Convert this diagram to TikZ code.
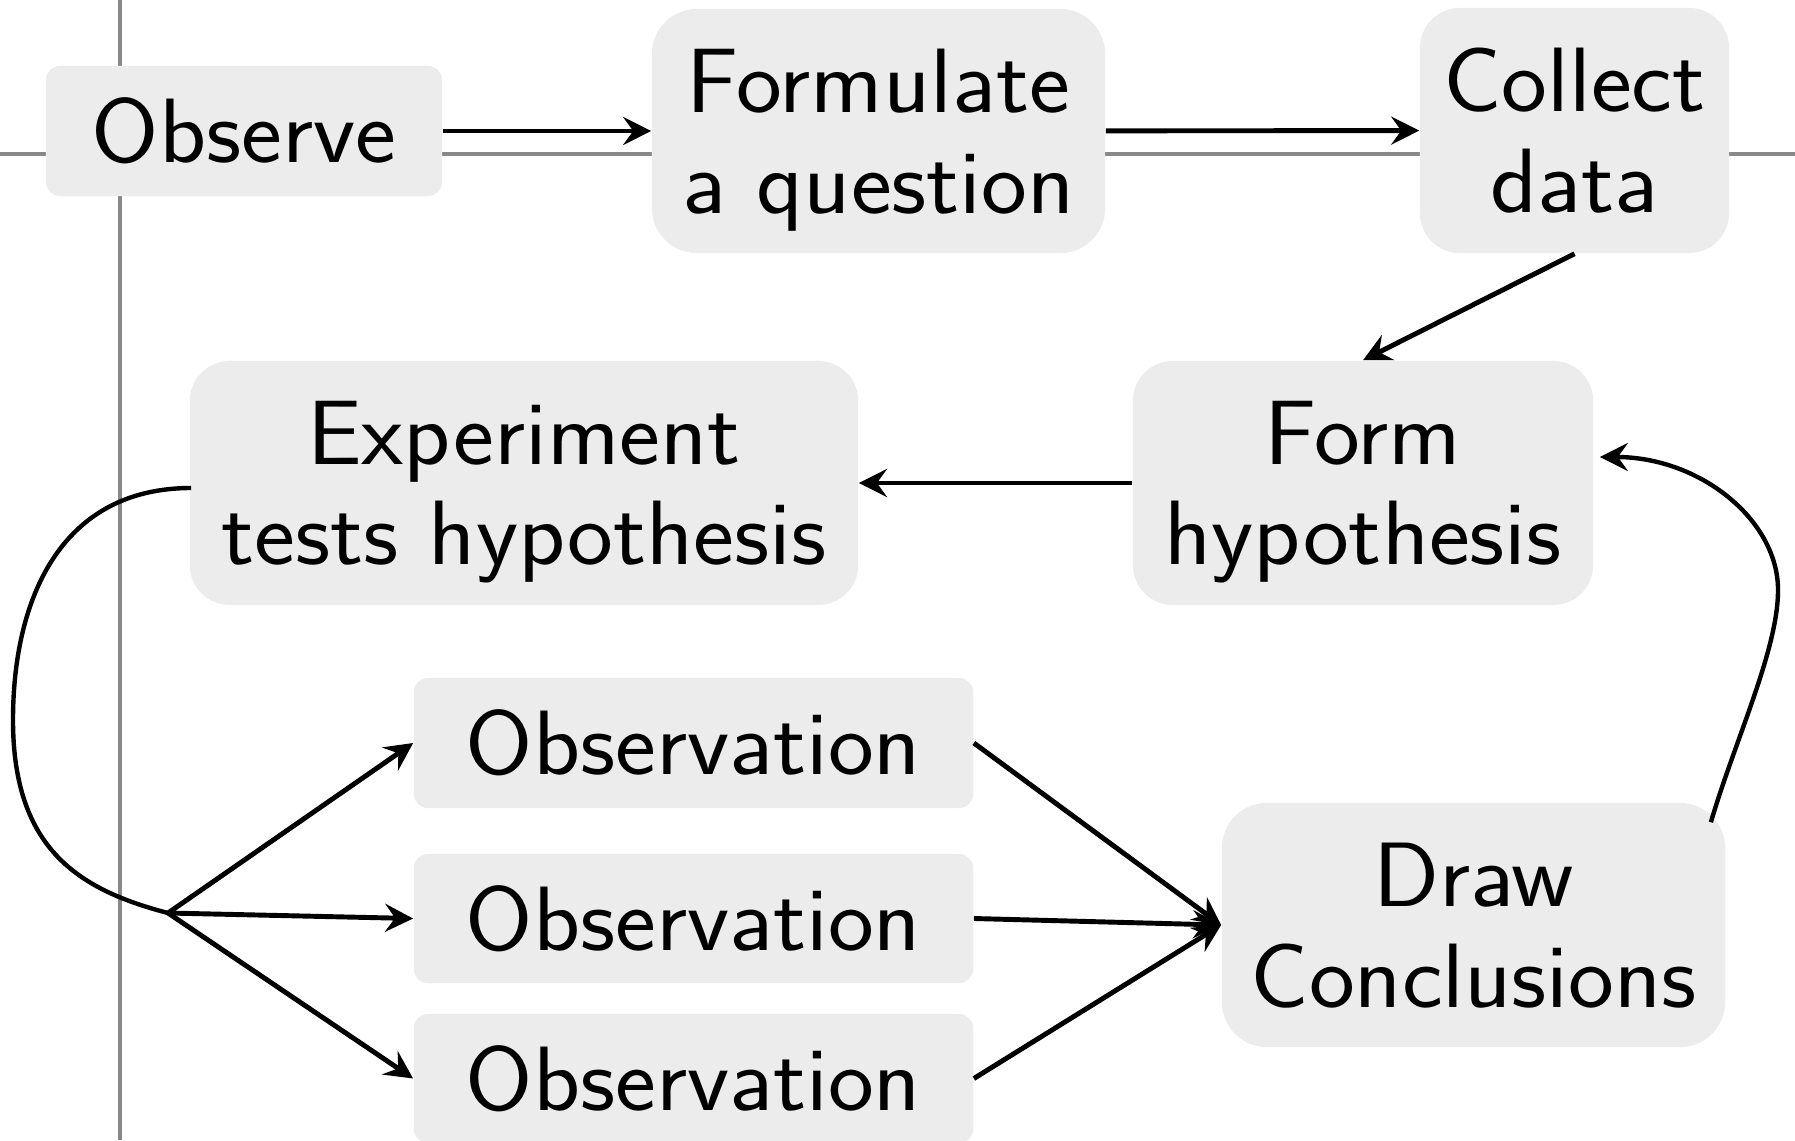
\documentclass[tikz,border=0pt]{standalone}
\usepackage{fontspec}
\setsansfont{lmsans17-regular.otf}[FakeStretch=1.065]
\usetikzlibrary{arrows.meta,calc}
\definecolor{boxgray}{RGB}{236,236,236}
\definecolor{axisgray}{RGB}{136,136,136}
\newcommand{\lastline}[1]{\raisebox{0pt}[\height][0pt]{#1}}
\begin{document}
\begin{tikzpicture}[x=0.01cm,y=-0.01cm,
  box/.style={fill=boxgray, rounded corners=#1, align=center, inner sep=0pt,
    font=\sffamily\fontsize{26}{28.6}\selectfont},
  box/.default=0.14cm,
  axisline/.style={draw=axisgray, line width=1pt},
  conn/.style={-{Stealth[length=0.28cm,width=0.28cm,inset=0.1cm]}, line width=1.4pt},
  curve/.style={-{Stealth[length=0.28cm,width=0.28cm,inset=0.1cm]}, line width=1.25pt}]
\clip (0,0) rectangle (1795,1140);
\fill[white] (0,0) rectangle (1795,1140);
% background axes
\draw[axisline] (120,0) -- (120,1140);
\draw[axisline] (0,154) -- (1795,154);
% nodes
\node[box, minimum width=3.96cm, minimum height=1.30cm] (observe) at (244,131) {Observe};
\node[box=0.45cm, minimum width=4.53cm, minimum height=2.44cm] (formq) at (878.5,131) {Formulate\\\lastline{a question}};
\node[box=0.40cm, minimum width=3.09cm, minimum height=2.45cm] (collect) at (1574.5,130.5) {Collect\\\lastline{data}};
\node[box=0.40cm, minimum width=4.60cm, minimum height=2.44cm] (form) at (1363,483) {Form\\\lastline{hypothesis}};
\node[box=0.40cm, minimum width=6.68cm, minimum height=2.44cm] (exp) at (524,483) {Experiment\\\lastline{tests hypothesis}};
\node[box, minimum width=5.59cm, minimum height=1.30cm] (ob1) at (693.5,743) {Observation};
\node[box, minimum width=5.59cm, minimum height=1.29cm] (ob2) at (693.5,918.5) {Observation};
\node[box, minimum width=5.59cm, minimum height=1.29cm] (ob3) at (693.5,1078.5) {Observation};
\node[box=0.45cm, minimum width=5.03cm, minimum height=2.44cm] (drawc) at (1473.5,925) {Draw\\\lastline{Conclusions}};
% helper coordinates
\coordinate (junc) at (168,913);
\coordinate (expout) at ($(exp.west)+(2,5)$);
\coordinate (drawout) at ($(drawc.north east)+(-15,20)$);
\coordinate (formin) at ($(form.east)+(6,-26)$);
% connectors
\draw[conn] (observe) -- (formq);
\draw[conn] (formq) -- (collect);
\draw[conn] (collect.south) -- (form.north);
\draw[conn] (form) -- (exp);
\draw[line width=1.25pt] (expout) .. controls (60,488) and (13,600) .. (13,720)
   .. controls (13,850) and (80,890) .. (junc);
\draw[conn] (junc) -- (ob1.west);
\draw[conn] (junc) -- (ob2.west);
\draw[conn] (junc) -- (ob3.west);
\draw[conn] (ob1.east) -- (drawc.west);
\draw[conn] (ob2.east) -- (drawc.west);
\draw[conn] (ob3.east) -- (drawc.west);
\draw[curve] (drawout) .. controls (1735,740) and (1778,650) .. (1778,590)
   .. controls (1778,520) and (1700,457) .. (formin);
\end{tikzpicture}
\end{document}
